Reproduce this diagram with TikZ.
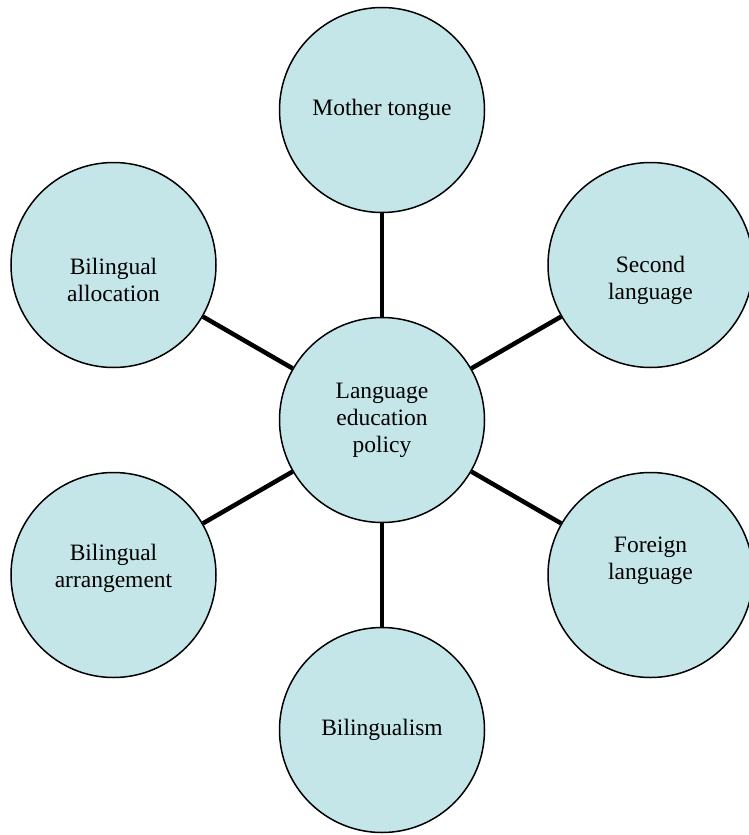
\documentclass[tikz,border=0pt]{standalone}
\usepackage{fontspec}
\setmainfont{Liberation Serif}
\usepackage{tikz}
\definecolor{bubblefill}{HTML}{C5E6E9}
\tikzset{
  bubble/.style={circle, draw=black, line width=1.5pt, fill=bubblefill,
                 minimum size=205pt, inner sep=0pt,
                 font=\fontsize{23.5}{27}\selectfont, align=center},
  btext/.style={inner sep=0pt, font=\fontsize{23.5}{27}\selectfont, align=center},
  spoke/.style={line width=4.5pt, color=black},
}
\begin{document}
\begin{tikzpicture}[x=1pt, y=-1pt]
  \useasboundingbox (0,0) rectangle (748,835);

  \node[bubble] (policy) at (382,420)   {Language\\education\\policy};
  \node[bubble] (mother) at (382,110)   {Mother tongue};
  \node[bubble] (second) at (650.5,265) {};
  \node[bubble] (alloc)  at (113.5,265) {};
  \node[bubble] (foreign) at (650.5,575) {};
  \node[bubble] (arrange) at (113.5,575) {};
  \node[bubble] (biling) at (382,730)   {Bilingualism};

  % side texts sit off the circle centres
  \node[btext] (secondtxt)  at ([yshift=-15pt]second.center)  {Second\\language};
  \node[btext] (alloctxt)   at ([yshift=-15pt]alloc.center)   {Bilingual\\allocation};
  \node[btext] (foreigntxt) at ([yshift=14pt]foreign.center)  {Foreign\\language};
  \node[btext] (arrangetxt) at ([yshift=7pt]arrange.center)   {Bilingual\\arrangement};

  \draw[spoke] (policy) -- (mother);
  \draw[spoke] (policy) -- (second);
  \draw[spoke] (policy) -- (alloc);
  \draw[spoke] (policy) -- (foreign);
  \draw[spoke] (policy) -- (arrange);
  \draw[spoke] (policy) -- (biling);
\end{tikzpicture}
\end{document}
